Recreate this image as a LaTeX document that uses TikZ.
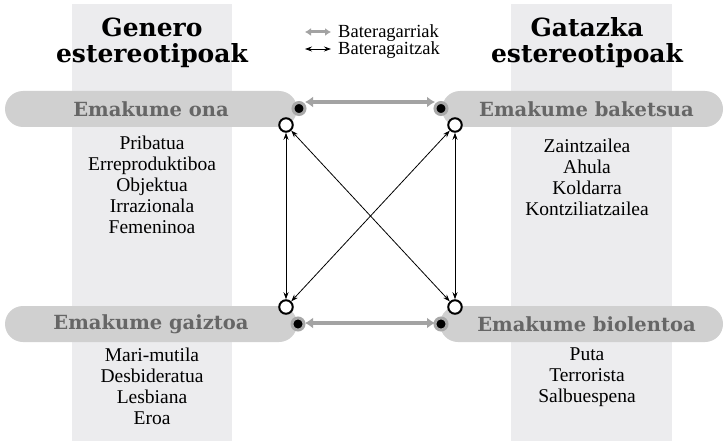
\documentclass[tikz,border=0pt]{standalone}
\usepackage{fontspec}
\setmainfont{Liberation Serif}
\newfontfamily\titlefont{DejaVu Serif}
\usetikzlibrary{arrows.meta}
\definecolor{colbg}{HTML}{ECECEE}
\definecolor{pillbg}{HTML}{D0D0D0}
\definecolor{pilltxt}{HTML}{666666}
\definecolor{garrow}{HTML}{A3A3A3}
\definecolor{halo}{HTML}{A8A8A8}
\begin{document}
\begin{tikzpicture}[x=1pt,y=-1pt,
  column/.style={fill=colbg,draw=none},
  pill/.style={fill=pillbg, rounded corners=18pt, minimum height=36pt, inner sep=0pt, text=pilltxt, font=\titlefont\bfseries\fontsize{19.5}{22}\selectfont},
  titletxt/.style={align=center, inner sep=0pt, font=\titlefont\bfseries\fontsize{25}{26}\selectfont},
  listtxt/.style={align=center, anchor=north, inner sep=0pt, font=\fontsize{19.5}{21}\selectfont},
  fdot/.style={circle, fill=black, draw=halo, line width=3pt, minimum size=12pt, inner sep=0pt},
  odot/.style={circle, fill=white, draw=black, line width=2pt, minimum size=13.5pt, inner sep=0pt},
  garr/.style={draw=garrow, line width=4pt, {Latex[length=8pt,width=11pt]}-{Latex[length=8pt,width=11pt]}},
  legarr/.style={draw=garrow, line width=3pt, {Latex[length=6pt,width=8pt]}-{Latex[length=6pt,width=8pt]}},
  barr/.style={draw=black, line width=0.8pt, {Stealth[length=7pt,width=5pt]}-{Stealth[length=7pt,width=5pt]}},
  legtxt/.style={anchor=base west, inner sep=0pt, font=\fontsize{18.5}{20}\selectfont}
]
\useasboundingbox (0,0) rectangle (725,441);
\fill[white] (0,0) rectangle (725,441);
% columns
\fill[column] (72,4) rectangle (232,441);
\fill[column] (511,4) rectangle (672,441);
% titles
\node[titletxt, anchor=base] (t1a) at (152,37) {Genero};
\node[titletxt, anchor=base] (t1b) at (152,63) {estereotipoak};
\node[titletxt, anchor=base] (t2a) at (587,37) {Gatazka};
\node[titletxt, anchor=base] (t2b) at (587,63) {estereotipoak};
% legend
\coordinate (lg1a) at (305,32); \coordinate (lg1b) at (331,32);
\coordinate (lg2a) at (305,49); \coordinate (lg2b) at (331,49);
\draw[legarr] (lg1a) -- (lg1b);
\draw[barr] (lg2a) -- (lg2b);
\node[legtxt] (leg1) at (338,37.5) {Bateragarriak};
\node[legtxt] (leg2) at (338,54.5) {Bateragaitzak};
% pills
\node[pill, minimum width=292pt] (ona) at (151,109) {Emakume ona};
\node[pill, minimum width=281pt] (baket) at (582.5,109) {\hspace*{8pt}Emakume baketsua};
\node[pill, minimum width=292pt] (gaizto) at (151,324) {Emakume gaiztoa};
\node[pill, minimum width=283pt] (biol) at (581.5,324) {\hspace*{10pt}Emakume biolentoa};
% lists
\node[listtxt] (l1) at (152,136) {Pribatua\\Erreproduktiboa\\Objektua\\Irrazionala\\Femeninoa};
\node[listtxt] (l2) at (587,139) {Zaintzailea\\Ahula\\Koldarra\\Kontziliatzailea};
\node[listtxt] (l3) at (152,348) {Mari-mutila\\Desbideratua\\Lesbiana\\Eroa};
\node[listtxt] (l4) at (587,348) {Puta\\Terrorista\\Salbuespena};
% dots
\node[fdot] (tlF) at (299,108.5) {};
\node[fdot] (trF) at (441,108.5) {};
\node[fdot] (blF) at (298,324) {};
\node[fdot] (brF) at (441,324) {};
\node[odot] (tlO) at (286,125) {};
\node[odot] (trO) at (455,125) {};
\node[odot] (blO) at (286,307) {};
\node[odot] (brO) at (455,307) {};
% gray arrows
\coordinate (ga1) at (305,102); \coordinate (ga2) at (435,102);
\coordinate (gb1) at (305,323); \coordinate (gb2) at (435,323);
\draw[garr] (ga1) -- (ga2);
\draw[garr] (gb1) -- (gb2);
% black arrows
\draw[barr] (tlO) -- (blO);
\draw[barr] (trO) -- (brO);
\draw[barr] (tlO) -- (brO);
\draw[barr] (trO) -- (blO);
\end{tikzpicture}
\end{document}
